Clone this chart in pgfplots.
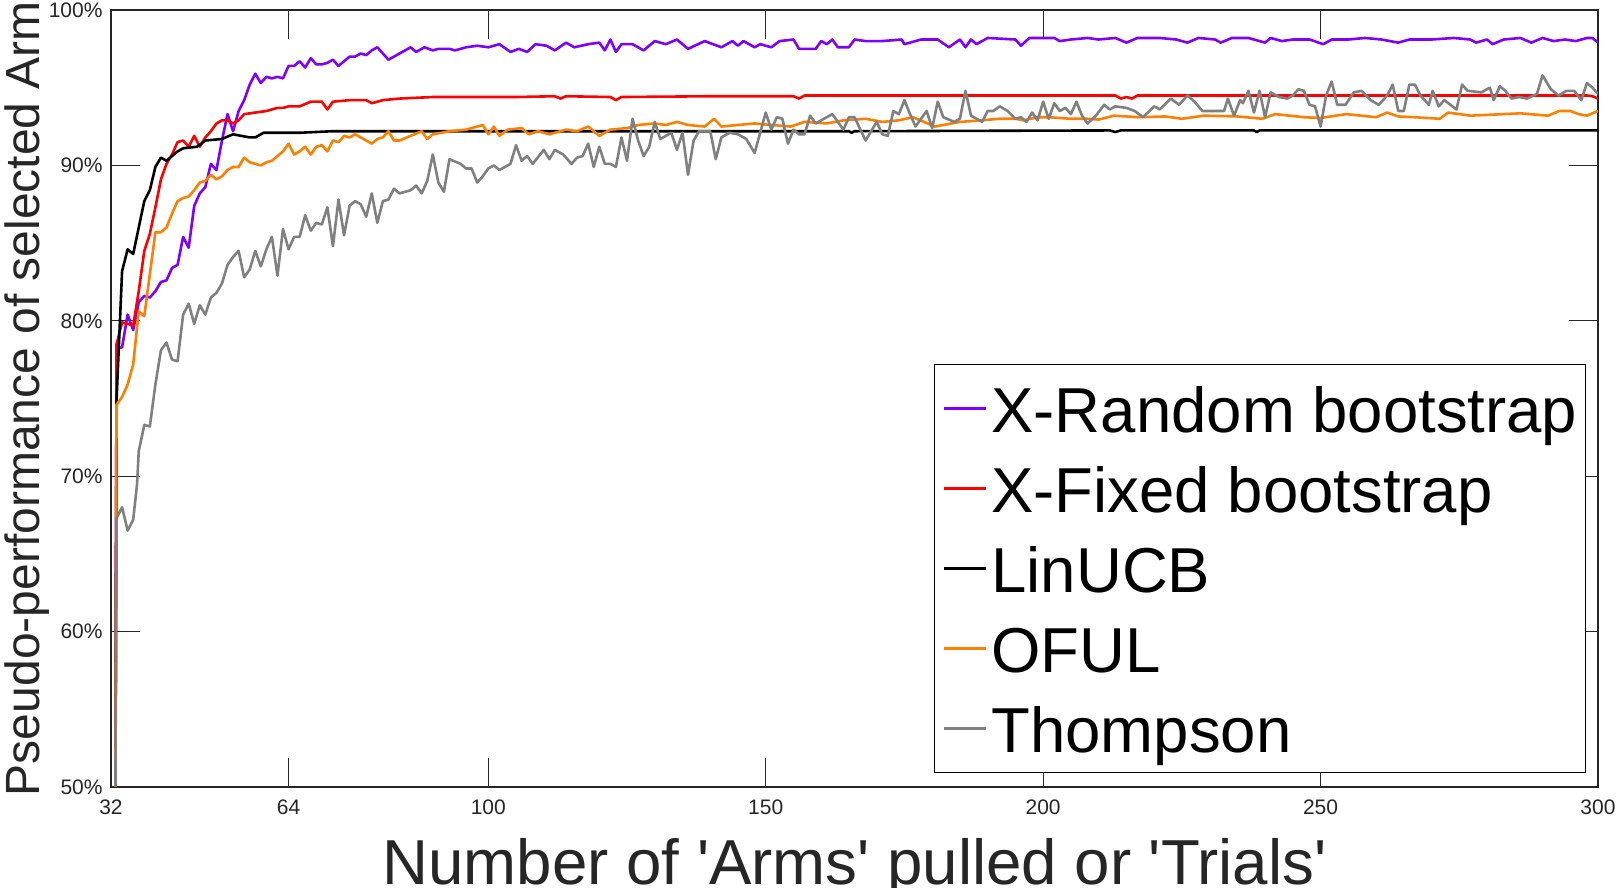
\documentclass[border=0pt]{standalone}
\usepackage{pgfplots}
\pgfplotsset{compat=1.18}
\usepackage{fontspec}
\setmainfont{Liberation Sans}
\definecolor{cPurple}{RGB}{127,0,255}
\definecolor{cRed}{RGB}{255,0,0}
\definecolor{cOrange}{RGB}{255,128,0}
\definecolor{cGray}{RGB}{128,128,128}
\definecolor{axc}{RGB}{38,38,38}
\begin{document}
\begin{tikzpicture}
\begin{axis}[
 scale only axis, width=743.5pt, height=388.5pt,
 xmin=32, xmax=300, ymin=50, ymax=100,
 xtick={32,64,100,150,200,250,300},
 ytick={50,60,70,80,90,100},
 yticklabel={\pgfmathprintnumber{\tick}\%},
 /pgf/number format/assume math mode=true,
 tick align=inside, major tick length=14.5pt,
 axis line style={axc, line width=0.6pt},
 tick style={axc, line width=0.6pt},
 ticklabel style={font=\fontsize{10.5}{12}\selectfont, text=axc},
 yticklabel style={xshift=-0.7pt},
 xticklabel style={yshift=-2.7pt},
 xlabel={Number of \textquotesingle Arms\textquotesingle{} pulled or \textquotesingle Trials\textquotesingle},
 ylabel={Pseudo-performance of selected Arm},
 xlabel style={font=\fontsize{31.8}{36}\selectfont, text=axc, at={(axis description cs:0.5,-0.1261)}, anchor=base},
 ylabel style={font=\fontsize{24}{28}\selectfont, text=axc, at={(axis description cs:-0.0484,0.5)}, anchor=base},
 legend style={at={(axis description cs:0.99193,0.01802)}, anchor=south east, draw=black, line width=0.6pt, fill=white, font=\fontsize{31.75}{38}\selectfont, inner xsep=4pt, inner ysep=2pt, row sep=0pt, column sep=2pt, nodes={inner sep=0pt, text height=32pt, text depth=8pt}},
 legend cell align=left,
 legend image code/.code={\draw[#1] (0pt,0pt) -- (21pt,0pt);},
 every axis plot/.append style={line width=1.3pt, no markers, line join=round},
]
\addplot[color=cPurple] coordinates {
(32.8,50) (33,78.2) (34,78.3) (35,80.4) (36,79.4) (37,81.2) (38,81.6) (39,81.5) (40,81.9) (41,82.5) (42,82.6) (43,83.4) (44,83.6) (45,85.4) (46,84.7) (47,87.4) (48,88.2) (49,88.6) (50,90.1) (51,89.7) (52,91.6) (53,93.3) (54,92.2) (55,93.5) (56,94.2) (57,95.2) (58,95.9) (59,95.3) (60,95.7) (61,95.6) (62,95.7) (63,95.6) (64,96.4) (65,96.4) (66,96.7) (67,96.3) (68,96.9) (69,96.5) (70,96.5) (71,96.6) (72,96.8) (73,96.4) (74,96.7) (75,97.0) (76,97.0) (77,97.2) (78,97.1) (79,97.4) (80,97.6) (81,97.2) (82,96.8) (83,97.0) (84,97.2) (86,97.6) (87,97.3) (88.5,97.6) (90,97.4) (91,97.5) (93,97.5) (94,97.4) (96,97.6) (98,97.7) (100,97.6) (102,97.8) (104,97.3) (105.5,97.5) (107,97.3) (108.5,97.8) (110.5,97.7) (112,97.4) (114,97.9) (115.5,97.6) (118,97.8) (120,97.9) (121,97.4) (122,98.1) (123,97.3) (124,97.8) (126,97.8) (128,97.4) (130,98.0) (132,97.8) (134,98.1) (136,97.5) (139,98.0) (142,97.6) (144,98.0) (145,97.7) (146,98.0) (148,97.6) (149,97.8) (151,97.6) (152.5,98.0) (155,98.1) (156,97.5) (159,97.5) (160,98.0) (161,97.8) (162,98.1) (163,97.6) (165,97.6) (166,98.1) (168,98.0) (171,98.0) (174.5,98.1) (175,97.8) (178,98.1) (181,98.1) (183,97.6) (185,98.1) (186,97.6) (187,98.1) (188,97.8) (190,98.2) (195,98.1) (196,97.7) (197.5,98.2) (202,98.2) (203,98.0) (205,98.1) (208,98.2) (210,98.1) (213,98.2) (215,97.9) (217,98.2) (221,98.2) (224,98.1) (226,97.9) (228,98.2) (231,98.1) (232,97.9) (234,98.2) (237,98.2) (240,97.9) (241,98.2) (243,98.0) (245,98.1) (248,98.1) (250.5,97.8) (252,98.1) (255,98.1) (258,98.2) (261,98.1) (264,97.9) (266,98.1) (270,98.1) (274,98.2) (277,98.1) (278,97.9) (280,98.1) (281,97.8) (283,98.1) (286,98.2) (288,97.9) (290,98.2) (292,98.0) (294,98.1) (296,98.0) (298,98.2) (299,98.2) (300,97.9)
};
\addlegendentry{X-Random bootstrap}
\addplot[color=cRed] coordinates {
(32.8,50) (33,78.5) (34,79.9) (35,79.8) (36,79.7) (37,81.9) (38,84.5) (39,85.6) (40,87.3) (41,89.1) (42,90.1) (43,90.7) (44,91.5) (45,91.6) (46,91.2) (47,91.9) (48,91.2) (49,91.8) (50,92.2) (51,92.7) (52,92.9) (53,92.9) (54,92.7) (55,92.9) (56,93.3) (58,93.4) (60,93.5) (62,93.7) (63,93.7) (64,93.8) (66,93.8) (68,94.1) (70,94.1) (71,93.6) (72,94.1) (75,94.2) (78,94.2) (79,94.0) (81,94.2) (84,94.3) (90,94.4) (100,94.4) (105,94.4) (112,94.45) (113,94.3) (114,94.45) (122,94.4) (123,94.2) (124,94.4) (140,94.45) (150,94.45) (155,94.45) (156,94.3) (157,94.5) (200,94.5) (213,94.5) (214,94.3) (215,94.4) (216,94.3) (217,94.5) (298,94.5) (299,94.45) (300,94.3)
};
\addlegendentry{X-Fixed bootstrap}
\addplot[color=black] coordinates {
(32.8,50) (33,74.9) (34,83.2) (35,84.6) (36,84.3) (37,86.0) (38,87.7) (39,88.4) (40,89.9) (41,90.5) (42,90.3) (43,90.6) (44,90.9) (45,91.1) (47.5,91.2) (49,91.6) (52,91.7) (54,92.0) (57,91.8) (58,91.8) (59.5,92.1) (66,92.1) (72,92.2) (165,92.2) (165.5,92.1) (166,92.2) (212,92.25) (213,92.15) (214,92.25) (238,92.25) (238.5,92.15) (239,92.25) (300,92.25)
};
\addlegendentry{LinUCB}
\addplot[color=cOrange] coordinates {
(32.8,50) (33,74.6) (34,75.1) (35,75.9) (36,77.2) (37,80.6) (38,80.3) (39,83.0) (40,85.7) (41,85.7) (42,86.0) (43,86.9) (44,87.7) (45,87.9) (46,88.0) (47,88.4) (48,88.9) (49,89.0) (50,89.4) (51,89.1) (52,89.3) (53,89.7) (54,89.9) (55,89.9) (56,90.5) (57,90.2) (58,90.1) (59,90.0) (60,90.2) (61,90.3) (62,90.6) (63,90.9) (64,91.4) (65,90.7) (66,90.9) (67,91.2) (68,90.7) (69,91.2) (70,91.3) (71,90.9) (72,91.6) (73,91.5) (74,91.9) (75,91.8) (76,92.0) (77,91.8) (78,91.6) (79,91.4) (80,91.7) (81,91.8) (82,92.2) (83,91.6) (84,91.6) (86,91.9) (88,92.2) (89,91.7) (90,92.0) (93,92.2) (96,92.3) (99,92.6) (100,92.0) (101,92.5) (102,91.9) (103.5,92.3) (106,92.4) (107.3,92.0) (109,92.2) (111,92.0) (114,92.3) (116,92.2) (118,92.5) (120,91.9) (122,92.3) (125,92.4) (127,92.6) (130,92.7) (132,92.6) (134,92.8) (136,92.6) (139,92.5) (140.7,93.0) (142,92.5) (145,92.6) (148,92.7) (151,92.6) (154.5,92.5) (157,92.8) (161,92.7) (164,92.9) (168,93.0) (171,92.8) (174,92.9) (176.5,93.1) (180.5,92.5) (185,92.8) (189,92.9) (192,93.0) (195,93.0) (196.5,92.9) (199,93.1) (201,93.1) (205,93.0) (208,93.0) (210,92.95) (212.8,93.2) (217,93.1) (222,93.15) (225,93.0) (229,93.2) (235,93.15) (239.5,93.0) (241.8,93.3) (247,93.1) (250,93.05) (254.6,93.3) (260,93.1) (262,93.4) (264,93.15) (267,93.1) (271.5,93.0) (273,93.4) (277,93.2) (283,93.3) (286,93.35) (291,93.2) (293,93.5) (295,93.5) (296.5,93.3) (298,93.2) (300,93.5)
};
\addlegendentry{OFUL}
\addplot[color=cGray] coordinates {
(32.8,50) (33,67.3) (34,68.0) (35,66.5) (36,67.2) (36.7,69.5) (37,71.6) (38,73.3) (39,73.2) (40,75.9) (41,78.1) (42,78.6) (43,77.5) (44,77.4) (45,80.4) (46,81.1) (47,79.8) (48,81.0) (49,80.4) (50,81.5) (51,81.8) (52,82.4) (53,83.6) (54,84.1) (55,84.5) (56,82.8) (57,83.3) (58,84.5) (59,83.5) (60,84.6) (61,85.4) (62,82.9) (63,85.9) (64,84.6) (65,85.4) (66,85.4) (67,86.8) (68,85.8) (69,86.3) (70,86.2) (71,87.3) (72,84.8) (73,87.8) (74,85.5) (75,87.4) (76,87.7) (77,87.5) (78,86.7) (79,88.2) (80,86.3) (81,87.7) (82,87.8) (83,88.5) (84,88.2) (86,88.4) (87,88.7) (88,88.2) (89,89.0) (90,90.7) (91,88.9) (92,88.3) (93,90.4) (95,90.1) (96,89.8) (97,89.8) (98,88.9) (99,89.3) (100,89.8) (101,90.0) (102,89.7) (104,90.1) (105,91.3) (106,90.3) (107,90.6) (108,90.1) (110,91.0) (111,90.4) (112,91.0) (113.5,90.7) (115,90.1) (116,90.5) (117,90.6) (118,91.4) (119,89.9) (120,91.2) (121,90.1) (122,90.1) (123,89.9) (124,91.8) (125,90.3) (126,93.0) (127,91.6) (128,90.6) (129,91.2) (130,92.8) (131,91.7) (133,92.1) (134,91.0) (135,92.1) (136,89.4) (137,91.6) (138,92.2) (140,92.2) (141,90.4) (142,91.8) (143.5,92.1) (145,92.0) (146.5,91.7) (148,90.8) (150,93.4) (151,92.3) (152,93.1) (153,93.0) (154,91.4) (155,92.3) (156,92.0) (157,92.0) (158,93.2) (159,92.7) (160.5,93.0) (162,93.3) (163,92.8) (164,92.3) (165,93.1) (166,93.1) (168,91.6) (170,92.8) (171,92.0) (172,91.9) (173,93.5) (174,93.3) (175,94.2) (176,93.3) (177,92.5) (179,93.5) (180,92.4) (181,94.1) (182,93.1) (184,92.8) (185,93.0) (186,94.8) (187,93.2) (189,92.8) (190,93.5) (191,93.5) (192.2,93.8) (193.6,93.5) (195,93.0) (196,93.1) (197,92.8) (198,93.4) (199,92.9) (200,94.1) (201,93.0) (202,94.0) (203,93.5) (204,93.7) (205,93.3) (206,94.1) (207,93.2) (208,92.7) (209.5,93.2) (211,93.9) (212,93.6) (213,93.8) (215,93.7) (216.5,93.5) (218,93.1) (220,93.8) (221,93.6) (223,94.3) (224.5,93.9) (226,94.5) (227.3,94.1) (228.7,93.5) (231,93.5) (232.6,93.5) (233.3,94.3) (234.4,93.2) (235.5,94.2) (236,94.0) (237,94.8) (238,93.4) (239,94.8) (240,93.1) (241,94.7) (242.5,94.4) (244,94.3) (245,94.5) (246,94.9) (247,94.8) (248,93.9) (249,93.8) (250,92.5) (251,94.5) (252,95.4) (253,93.9) (254.5,93.9) (256,94.7) (257.4,94.8) (259,94.2) (260.5,93.9) (262,94.5) (263,95.2) (264,93.5) (265,93.5) (266,95.2) (267,95.2) (268,94.5) (269.5,93.9) (270.2,94.8) (271.3,93.8) (272.3,94.2) (274.5,93.6) (275.5,95.2) (276.5,94.8) (279,94.7) (280.5,95.0) (281.2,94.2) (282.3,95.1) (283.3,94.8) (284.4,94.3) (285.8,94.4) (287.2,94.3) (289,94.6) (290,95.8) (291.5,94.9) (292.9,94.5) (294.3,94.8) (295.7,94.8) (297,94.2) (298,95.3) (299,95.0) (300,94.6)
};
\addlegendentry{Thompson}
\end{axis}
\pgfresetboundingbox
\useasboundingbox (-55.5pt,-50.5pt) rectangle (753pt,393.5pt);
\end{tikzpicture}
\end{document}
